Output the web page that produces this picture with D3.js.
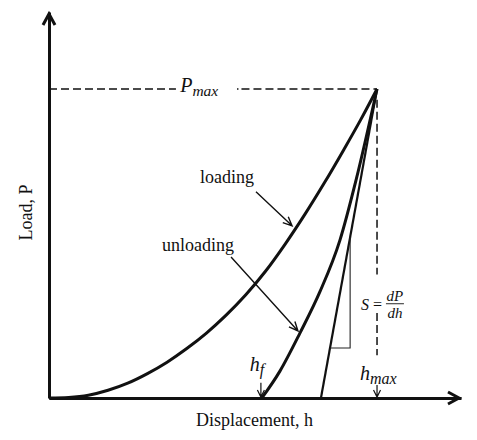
<!DOCTYPE html>
<html>
<head>
<meta charset="utf-8">
<script src="https://cdn.jsdelivr.net/npm/d3@7"></script>
<style>
  html, body { margin: 0; padding: 0; background: #fff; }
  svg { display: block; }
  text { font-family: "Liberation Serif", "Times New Roman", serif; fill: #111; }
</style>
</head>
<body>
<svg id="chart" width="477" height="440"></svg>
<script>
// ---- data (normalised: h / hmax, P / Pmax) ----
const loadingH = [0, 0.06, 0.12, 0.18, 0.24, 0.30, 0.36, 0.42, 0.48, 0.54, 0.60, 0.66, 0.72, 0.78, 0.84, 0.90, 0.95, 1.0];
const loadingP = [0, 0.002, 0.009, 0.025, 0.048, 0.079, 0.116, 0.160, 0.210, 0.268, 0.334, 0.410, 0.498, 0.594, 0.697, 0.806, 0.900, 1.0];
const unloadingH = [0.649, 0.704, 0.765, 0.826, 0.887, 0.936, 1.0];
const unloadingP = [0, 0.087, 0.210, 0.344, 0.511, 0.705, 1.0];
const tangentH = [0.829, 1.0];
const tangentP = [0, 1.0];
const hf = 0.646, hmax = 1.0, Pmax = 1.0;
const xLabel = "Displacement, h";
const yLabel = "Load, P";
const curveLabels = ["loading", "unloading"];

// ---- scales ----
const x = d3.scaleLinear().domain([0, 1.256]).range([49, 461]);
const y = d3.scaleLinear().domain([0, 1.249]).range([398, 12]);

const svg = d3.select("#chart");
const line = d3.line().x(d => x(d[0])).y(d => y(d[1]));

// ---- axes ----
const gx = svg.append("g").attr("transform", `translate(0,${y(0)})`)
  .call(d3.axisBottom(x).tickValues([]).tickSizeOuter(0));
const gy = svg.append("g").attr("transform", `translate(${x(0)},0)`)
  .call(d3.axisLeft(y).tickValues([]).tickSizeOuter(0));
[gx, gy].forEach(g => g.select(".domain").attr("stroke", "#111").attr("stroke-width", 3));

// axis arrowheads
const xt = x(1.256) - 2, yt = y(1.249) + 2;
svg.append("path").attr("d", `M${xt - 11},${y(0) - 6}L${xt},${y(0)}L${xt - 11},${y(0) + 6}`)
  .attr("fill", "none").attr("stroke", "#111").attr("stroke-width", 3);
svg.append("path").attr("d", `M${x(0) - 6},${yt + 11}L${x(0)},${yt}L${x(0) + 6},${yt + 11}`)
  .attr("fill", "none").attr("stroke", "#111").attr("stroke-width", 3);

// ---- dashed reference lines ----
const dashStyle = sel => sel.attr("fill", "none").attr("stroke", "#111").attr("stroke-width", 1.5).attr("stroke-dasharray", "8,4");
svg.append("path").attr("d", line([[0, Pmax], [0.387, Pmax]])).call(dashStyle);
svg.append("path").attr("d", line([[0.573, Pmax], [hmax, Pmax]])).call(dashStyle).attr("stroke-dasharray", "1.5,3,8,4,8,4,8,4,8,4,8,4,8,4,8,4,8,4,8,4,8,4,8,4,8,4,8,4,8,4");
svg.append("path").attr("d", line([[hmax, 0.965], [hmax, 0.40]])).call(dashStyle);
svg.append("path").attr("d", line([[hmax, 0.275], [hmax, 0.138]])).call(dashStyle);

// ---- curves ----
const curveLine = d3.line().x(d => x(d[0])).y(d => y(d[1])).curve(d3.curveMonotoneX);
svg.append("path").attr("d", curveLine(loadingH.map((h, i) => [h, loadingP[i]])))
  .attr("fill", "none").attr("stroke", "#111").attr("stroke-width", 3);
svg.append("path").attr("d", curveLine(unloadingH.map((h, i) => [h, unloadingP[i]])))
  .attr("fill", "none").attr("stroke", "#111").attr("stroke-width", 3);
svg.append("path").attr("d", line(tangentH.map((h, i) => [h, tangentP[i]])))
  .attr("fill", "none").attr("stroke", "#111").attr("stroke-width", 2.2);

// slope triangle
svg.append("path").attr("d", line([[0.918, 0.52], [0.918, 0.162], [0.857, 0.162]]))
  .attr("fill", "none").attr("stroke", "#222").attr("stroke-width", 1.1);

// ---- annotation arrows ----
function arrow(x1, y1, x2, y2, w, len, sw) {
  const a = Math.atan2(y2 - y1, x2 - x1);
  const p1 = [x2 - len * Math.cos(a) + w * Math.sin(a), y2 - len * Math.sin(a) - w * Math.cos(a)];
  const p2 = [x2 - len * Math.cos(a) - w * Math.sin(a), y2 - len * Math.sin(a) + w * Math.cos(a)];
  svg.append("path").attr("d", `M${x1},${y1}L${x2},${y2}M${p1[0]},${p1[1]}L${x2},${y2}L${p2[0]},${p2[1]}`)
    .attr("fill", "none").attr("stroke", "#111").attr("stroke-width", sw);
}
arrow(x(0.631), y(0.667), x(0.741), y(0.557), 4, 9, 1.4);
arrow(x(0.555), y(0.456), x(0.759), y(0.217), 4, 9, 1.4);
arrow(x(hf), y(0.049), x(hf), y(0.003), 3.5, 7, 1.2);
arrow(x(hmax), y(0.042), x(hmax), y(0.003), 3.5, 7, 1.2);

// ---- texts ----
svg.append("text").attr("x", x(0.543)).attr("y", y(0.696)).attr("text-anchor", "middle")
  .attr("font-size", 18).text(curveLabels[0]);
svg.append("text").attr("x", x(0.454)).attr("y", y(0.476)).attr("text-anchor", "middle")
  .attr("font-size", 18).text(curveLabels[1]);
svg.append("text").attr("x", (x(0) + x(1.256)) / 2 - 0.5).attr("y", 426).attr("text-anchor", "middle")
  .attr("font-size", 18).text(xLabel);
svg.append("text").attr("transform", `translate(32,${y(0.60)}) rotate(-90)`).attr("text-anchor", "middle")
  .attr("font-size", 18).text(yLabel);

// math labels
function subLabel(px, py, main, sub, fs, sfs) {
  const t = svg.append("text").attr("x", px).attr("y", py).attr("font-style", "italic").attr("font-size", fs);
  t.append("tspan").text(main);
  t.append("tspan").attr("dy", fs * 0.2).attr("font-size", sfs).text(sub);
}
subLabel(x(0.400), y(0.99), "P", "max", 20, 15.5);
subLabel(x(0.612), y(0.088), "h", "f", 20, 16);
subLabel(x(0.948), y(0.058), "h", "max", 20, 16);

// S = dP/dh
const sx = x(0.951), sy = y(0.305);
svg.append("text").attr("x", sx).attr("y", sy + 6).attr("font-style", "italic").attr("font-size", 16).text("S");
svg.append("text").attr("x", sx + 12).attr("y", sy + 6).attr("font-size", 16).text("=");
svg.append("text").attr("x", sx + 34).attr("y", sy - 3).attr("text-anchor", "middle").attr("font-style", "italic").attr("font-size", 15).text("dP");
svg.append("line").attr("x1", sx + 25).attr("x2", sx + 43).attr("y1", sy).attr("y2", sy).attr("stroke", "#111").attr("stroke-width", 0.9);
svg.append("text").attr("x", sx + 34).attr("y", sy + 14).attr("text-anchor", "middle").attr("font-style", "italic").attr("font-size", 15).text("dh");
</script>
</body>
</html>
